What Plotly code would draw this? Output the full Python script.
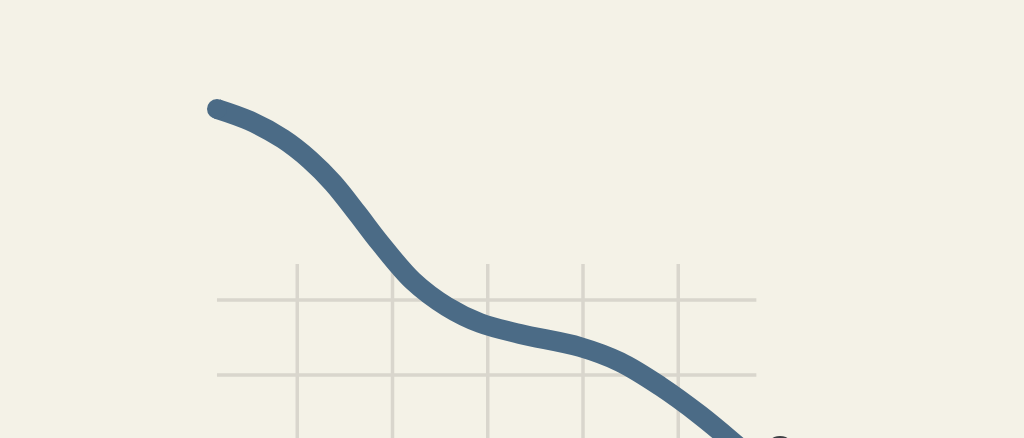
import plotly.graph_objects as go

# Curve (data units)
x_vals = [0.157, 0.504, 0.850, 1.134, 1.375, 1.627, 1.869, 2.215, 2.572, 2.919, 3.339,
          3.969, 4.388, 4.808, 5.228, 5.648, 6.068]
y_vals = [4.547, 4.387, 4.147, 3.867, 3.56, 3.16, 2.76, 2.253, 1.91, 1.693, 1.547,
          1.373, 1.173, 0.853, 0.467, 0.027, -0.427]

# Highlight dot
dot_x = [6.068]
dot_y = [-0.013]

# Grid positions
grid_x = [1, 2, 3, 4, 5]
grid_y = [1, 2]
grid_x_extent = [0.157, 5.82]
grid_y_top = 2.48

BG = "#f4f2e7"
LINE = "#4b6b86"
GRID = "#d9d6cd"

fig = go.Figure()

shapes = []
for gx in grid_x:
    shapes.append(dict(type="line", xref="x", yref="y", x0=gx, x1=gx, y0=-1, y1=grid_y_top,
                       line=dict(color=GRID, width=3.5), layer="below"))
for gy in grid_y:
    shapes.append(dict(type="line", xref="x", yref="y", x0=grid_x_extent[0], x1=grid_x_extent[1], y0=gy, y1=gy,
                       line=dict(color=GRID, width=3.5), layer="below"))

fig.add_trace(go.Scatter(x=x_vals, y=y_vals, mode="lines",
                         line=dict(color=LINE, width=20, shape="spline", smoothing=1.0),
                         hoverinfo="skip", showlegend=False))
fig.add_trace(go.Scatter(x=x_vals[:1], y=y_vals[:1], mode="markers",
                         marker=dict(color=LINE, size=20, line=dict(width=0)),
                         hoverinfo="skip", showlegend=False))
fig.add_trace(go.Scatter(x=dot_x, y=dot_y, mode="markers", cliponaxis=False,
                         marker=dict(color="#3d4044", size=30, line=dict(width=0)),
                         hoverinfo="skip", showlegend=False))

fig.update_layout(
    width=1024, height=500,
    margin=dict(l=0, r=0, t=0, b=0),
    paper_bgcolor=BG, plot_bgcolor=BG,
    shapes=shapes,
    xaxis=dict(range=[-2.121, 8.630], visible=False, showgrid=False, zeroline=False, fixedrange=True),
    yaxis=dict(range=[-0.6667, 6.0], visible=False, showgrid=False, zeroline=False, fixedrange=True),
)

fig.write_html(
    "out.html",
    config={"displayModeBar": False},
    post_script="document.body.style.margin='0';document.body.style.padding='0';"
                "document.body.style.overflow='hidden';"
                "document.documentElement.style.overflow='hidden';"
                "document.documentElement.style.background='" + BG + "';",
)
